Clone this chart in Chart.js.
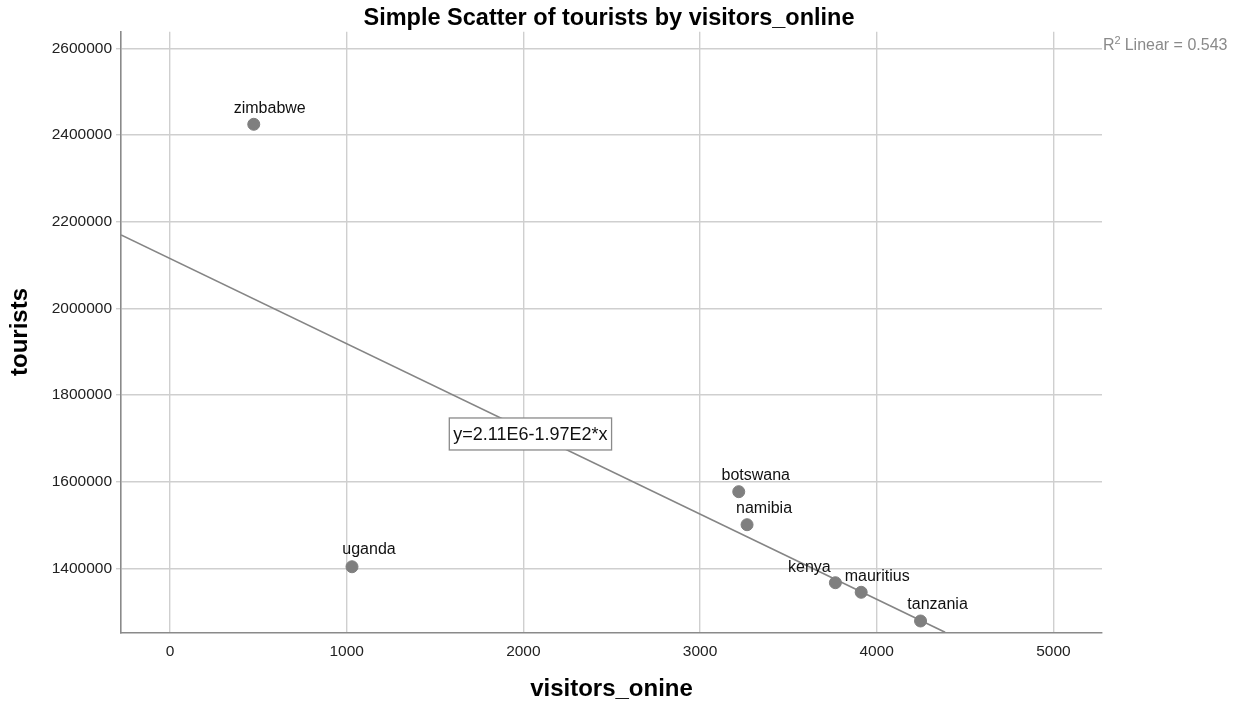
<!DOCTYPE html>
<html>
<head>
<meta charset="utf-8">
<script src="https://cdn.jsdelivr.net/npm/chart.js@4"></script>
<style>
  body { margin: 0; background: #fff; }
  #wrap { width: 1236px; height: 706px; }
</style>
</head>
<body>
<div id="wrap"><canvas id="scatter" width="1236" height="706"></canvas></div>
<script>
const countries = ['zimbabwe', 'uganda', 'botswana', 'namibia', 'kenya', 'mauritius', 'tanzania'];
const visitorsOnline = [474, 1030, 3219, 3266, 3766, 3912, 4248];
const tourists = [2424700, 1404000, 1577200, 1501000, 1367200, 1345100, 1278900];

const xTicks = [0, 1000, 2000, 3000, 4000, 5000];
const yTicks = [1400000, 1600000, 1800000, 2000000, 2200000, 2400000, 2600000];

// fit line endpoints (y=2.11E6-1.97E2*x)
const fitX = [-277, 4387];
const fitY = [2169300, 1252800];
const fitLabel = 'y=2.11E6-1.97E2*x';
const rSquared = '0.543';

// label nudges (px) so names sit like in the original
const labelShift = [[16, -16], [17, -17], [17, -16], [17, -16], [-26, -15], [16, -16], [17, -16]];

const FONT = 'Arial, "Liberation Sans", sans-serif';
const GREY = '#7f7f7f';

const extrasPlugin = {
  id: 'extras',
  afterDraw(chart) {
    const ctx = chart.ctx;
    const xs = chart.scales.x, ys = chart.scales.y;
    const area = chart.chartArea;
    ctx.save();

    // title
    ctx.font = 'bold 23.5px ' + FONT;
    ctx.fillStyle = '#000';
    ctx.textAlign = 'center';
    ctx.textBaseline = 'alphabetic';
    ctx.fillText('Simple Scatter of tourists by visitors_online', 609, 25);

    // point names
    ctx.font = '16px ' + FONT;
    ctx.fillStyle = '#111';
    ctx.textBaseline = 'middle';
    countries.forEach((name, i) => {
      const px = xs.getPixelForValue(visitorsOnline[i]);
      const py = ys.getPixelForValue(tourists[i]);
      ctx.fillText(name, px + labelShift[i][0], py + labelShift[i][1]);
    });

    // equation box
    const bx = xs.getPixelForValue(2040);
    const by = ys.getPixelForValue(1710300);
    ctx.font = '18px ' + FONT;
    const w = ctx.measureText(fitLabel).width + 8;
    ctx.fillStyle = '#fff';
    ctx.fillRect(bx - w / 2, by - 16, w, 32);
    ctx.strokeStyle = '#8a8a8a';
    ctx.lineWidth = 1.3;
    ctx.strokeRect(bx - w / 2, by - 16, w, 32);
    ctx.fillStyle = '#111';
    ctx.fillText(fitLabel, bx, by + 1);

    // R2 note at top right
    const rx = area.right + 1;
    const ry = ys.getPixelForValue(2600000) + 2;
    ctx.fillStyle = '#8a8a8a';
    ctx.textAlign = 'left';
    ctx.textBaseline = 'alphabetic';
    ctx.font = '16px ' + FONT;
    ctx.fillText('R', rx, ry);
    let off = rx + ctx.measureText('R').width;
    ctx.font = '11px ' + FONT;
    ctx.fillText('2', off, ry - 6);
    off += ctx.measureText('2').width + 4;
    ctx.font = '16px ' + FONT;
    ctx.fillText('Linear = ' + rSquared, off, ry);
    ctx.restore();
  }
};

new Chart(document.getElementById('scatter'), {
  type: 'scatter',
  data: {
    datasets: [{
      label: 'tourists',
      data: visitorsOnline.map((v, i) => ({ x: v, y: tourists[i] })),
      backgroundColor: GREY,
      borderColor: GREY,
      pointRadius: 6,
      pointHoverRadius: 6,
      order: 1
    }, {
      label: 'fit',
      type: 'line',
      data: fitX.map((v, i) => ({ x: v, y: fitY[i] })),
      borderColor: '#858585',
      borderWidth: 1.6,
      pointRadius: 0,
      fill: false,
      order: 2
    }]
  },
  options: {
    responsive: false,
    animation: false,
    layout: { padding: { top: 31.7, right: 134, left: 0, bottom: 0 } },
    plugins: {
      legend: { display: false },
      tooltip: { enabled: false },
      title: { display: false }
    },
    scales: {
      x: {
        type: 'linear',
        min: -277.4,
        max: 5275,
        afterFit(scale) { scale.height = 706 - 632.3; },
        afterBuildTicks(scale) { scale.ticks = xTicks.map(v => ({ value: v })); },
        ticks: {
          padding: 10,
          color: '#222',
          font: { family: FONT, size: 15.5 },
          callback: v => String(v)
        },
        grid: { color: '#cfcfcf', lineWidth: 1.4, drawTicks: false },
        border: { color: '#8a8a8a', width: 1.6 },
        title: {
          display: true,
          text: 'visitors_onine',
          color: '#000',
          font: { family: FONT, size: 24, weight: 'bold' },
          padding: { top: 0, bottom: 2 }
        }
      },
      y: {
        type: 'linear',
        min: 1252800,
        max: 2638300,
        afterFit(scale) { scale.width = 121; },
        afterBuildTicks(scale) { scale.ticks = yTicks.map(v => ({ value: v })); },
        ticks: {
          padding: 4,
          color: '#222',
          font: { family: FONT, size: 15.5 },
          callback: v => String(v)
        },
        grid: { color: '#cfcfcf', lineWidth: 1.4, tickLength: 5 },
        border: { color: '#8a8a8a', width: 1.6 },
        title: {
          display: true,
          text: 'tourists',
          color: '#000',
          font: { family: FONT, size: 24, weight: 'bold' },
          padding: { top: 6, bottom: 0 }
        }
      }
    }
  },
  plugins: [extrasPlugin]
});
</script>
</body>
</html>
